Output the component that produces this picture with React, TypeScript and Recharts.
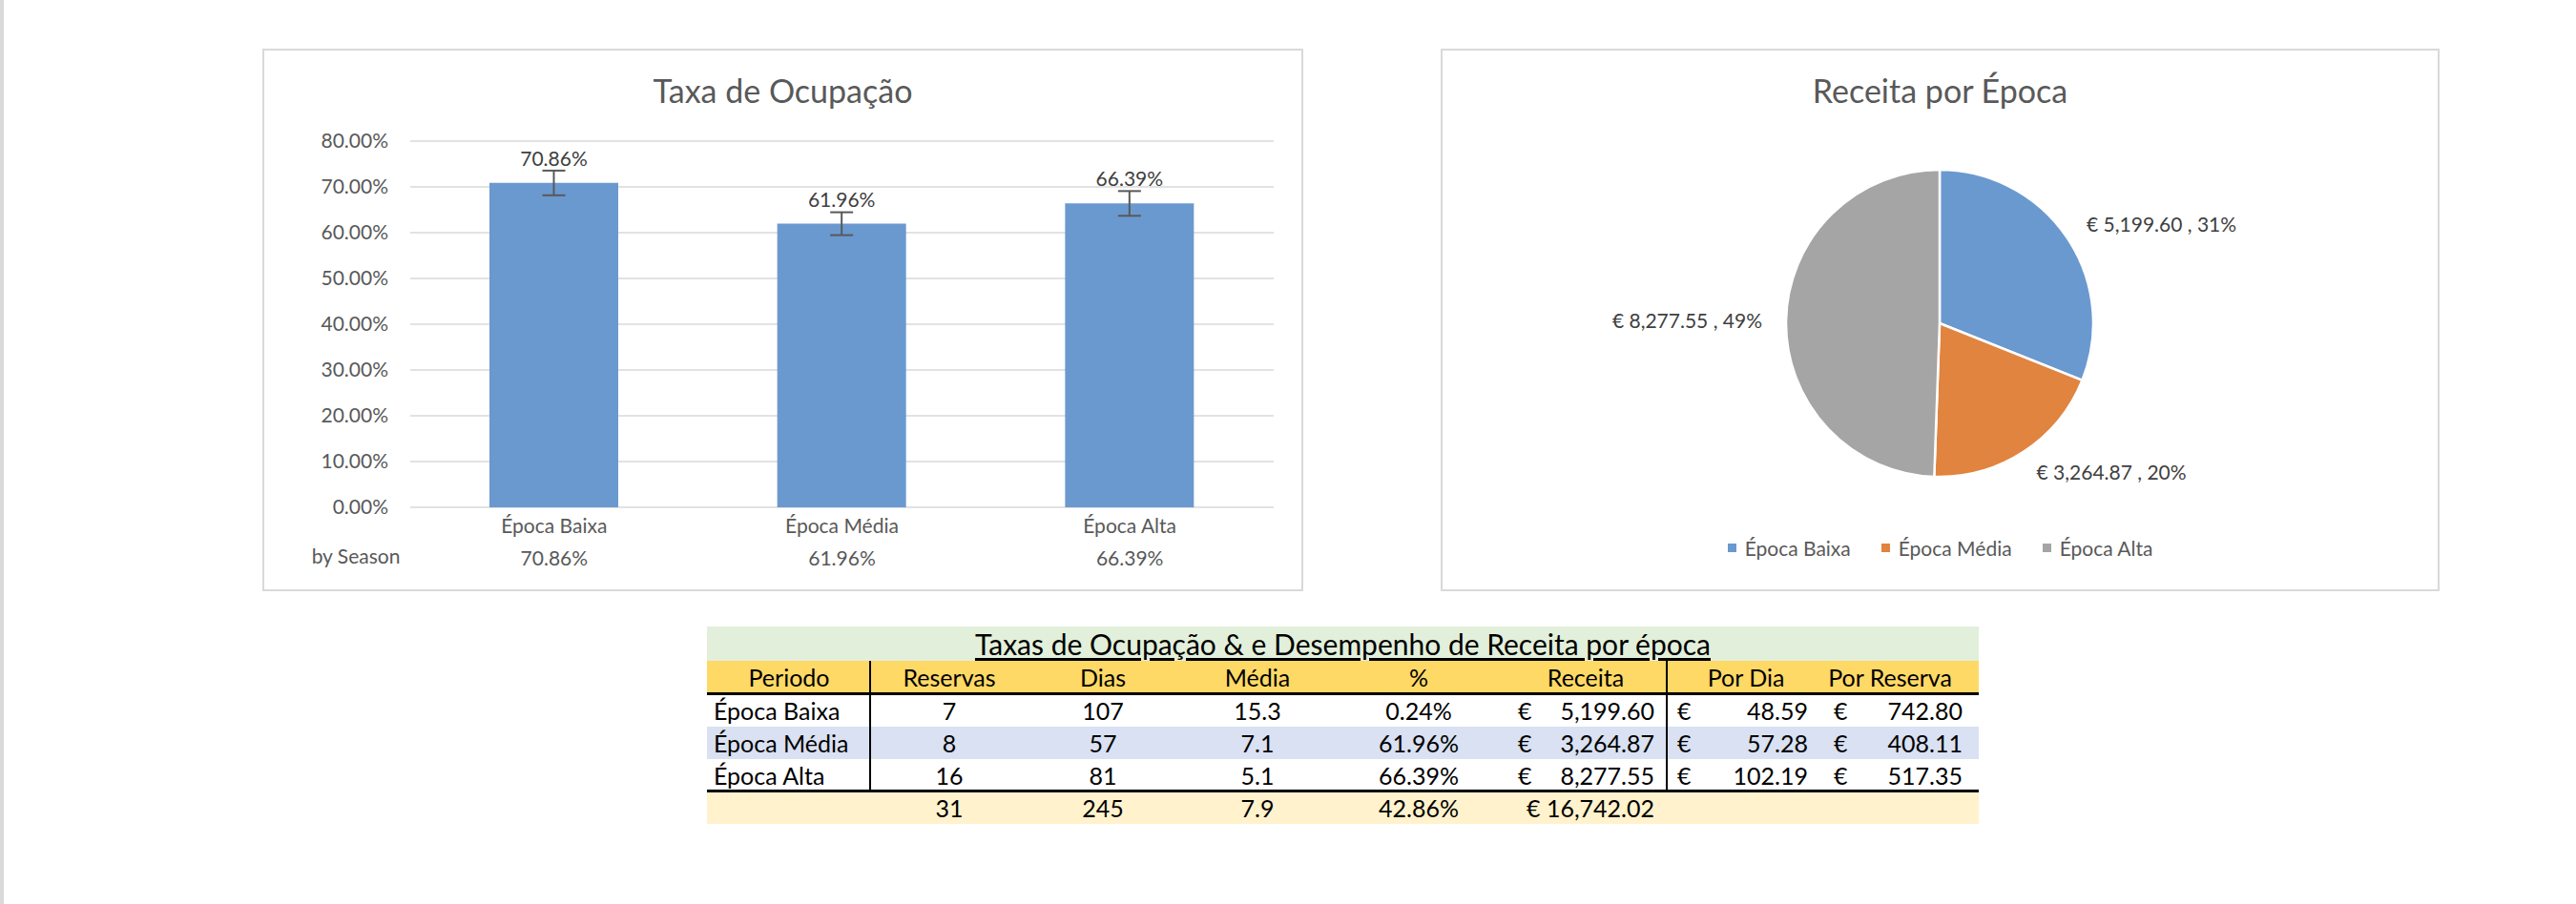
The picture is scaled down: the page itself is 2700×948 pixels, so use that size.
import React from "react";
import {
  BarChart,
  Bar,
  XAxis,
  YAxis,
  CartesianGrid,
  ErrorBar,
  LabelList,
  PieChart,
  Pie,
  Cell,
  Legend,
} from "recharts";

const seasons = ["Época Baixa", "Época Média", "Época Alta"];
const occupancy = [70.86, 61.96, 66.39];
const occupancyError = [2.7, 2.5, 2.7];
const yTicks = [0, 10, 20, 30, 40, 50, 60, 70, 80];

const revenue = [5199.6, 3264.87, 8277.55];
const revenueShare = [31, 20, 49];
const seasonColors = ["#6a99d0", "#e0843f", "#a5a5a5"];

const reservas = [7, 8, 16];
const dias = [107, 57, 81];
const media = ["15.3", "7.1", "5.1"];
const pctCol = ["0.24%", "61.96%", "66.39%"];
const porDia = [48.59, 57.28, 102.19];
const porReserva = [742.8, 408.11, 517.35];
const totalRow = ["31", "245", "7.9", "42.86%", "€ 16,742.02"];
const headers = ["Periodo", "Reservas", "Dias", "Média", "%", "Receita", "Por Dia", "Por Reserva"];

const FONT = "Lato, 'Noto Sans', sans-serif";
const AXIS = "#595959";
const LABEL = "#404040";
const GRID = "#d9d9d9";

const pct = (v: number) => `${v.toFixed(2)}%`;
const money = (v: number) =>
  v.toLocaleString("en-US", { minimumFractionDigits: 2, maximumFractionDigits: 2 });

const barData = seasons.map((name, i) => ({ name, value: occupancy[i], err: occupancyError[i] }));
const pieData = seasons.map((name, i) => ({ name, value: revenue[i], share: revenueShare[i] }));

function SeasonTick({ x, y, payload }: any) {
  const i = seasons.indexOf(payload.value);
  return (
    <g fontFamily={FONT} fontSize={21} fill={AXIS}>
      <text x={x} y={y + 18} textAnchor="middle" dominantBaseline="central">
        {payload.value}
      </text>
      <text x={x} y={y + 52} textAnchor="middle" dominantBaseline="central">
        {pct(occupancy[i])}
      </text>
    </g>
  );
}

function Panel({ left, top, width, height, title, children }: any) {
  return (
    <div style={{ position: "absolute", left, top, width, height }}>
      <div
        style={{
          position: "absolute",
          inset: 0,
          border: `2px solid ${GRID}`,
          boxSizing: "border-box",
        }}
      />
      <div
        style={{
          position: "absolute",
          left: 0,
          width,
          top: 24,
          textAlign: "center",
          fontSize: 34,
          lineHeight: "40px",
          color: AXIS,
        }}
      >
        {title}
      </div>
      {children}
    </div>
  );
}

function OccupancyChart() {
  return (
    <Panel left={275} top={51} width={1091} height={569} title="Taxa de Ocupação">
      <div style={{ position: "absolute", left: 0, top: 0 }}>
        <BarChart
          width={1091}
          height={569}
          data={barData}
          margin={{ top: 97, right: 31, bottom: 0, left: 0 }}
          barCategoryGap="27%"
        >
          <CartesianGrid vertical={false} stroke={GRID} strokeWidth={1.5} />
          <XAxis
            dataKey="name"
            height={88}
            axisLine={false}
            tickLine={false}
            tickSize={0}
            tickMargin={0}
            tick={<SeasonTick />}
          />
          <YAxis
            width={155}
            domain={[0, 80]}
            ticks={yTicks}
            axisLine={false}
            tickLine={false}
            tickSize={0}
            tickMargin={23}
            tickFormatter={pct}
            tick={{ fill: AXIS, fontSize: 21, fontFamily: FONT }}
          />
          <Bar dataKey="value" fill={seasonColors[0]} barSize={135} isAnimationActive={false}>
            <ErrorBar dataKey="err" width={12} stroke={AXIS} strokeWidth={2} />
            <LabelList
              dataKey="value"
              position="top"
              offset={18}
              formatter={(v: any) => pct(Number(v))}
              fill={LABEL}
              fontSize={21}
              fontFamily={FONT}
            />
          </Bar>
        </BarChart>
      </div>
      <div
        style={{
          position: "absolute",
          left: 40,
          width: 116,
          top: 518,
          textAlign: "center",
          fontSize: 21,
          lineHeight: "28px",
          color: AXIS,
        }}
      >
        by Season
      </div>
    </Panel>
  );
}

function renderPieLabel(props: any) {
  const { cx, cy, midAngle, outerRadius, payload } = props;
  const rad = (Math.PI / 180) * midAngle;
  const r = outerRadius + 25;
  const x = cx + r * Math.cos(rad);
  const y = cy - r * Math.sin(rad);
  return (
    <text
      x={x}
      y={y}
      textAnchor={Math.cos(rad) >= 0 ? "start" : "end"}
      dominantBaseline="central"
      fill={LABEL}
      fontSize={21}
      fontFamily={FONT}
    >
      {`€ ${money(payload.value)} , ${payload.share}%`}
    </text>
  );
}

function SeasonLegend() {
  return (
    <div style={{ display: "flex", justifyContent: "center", gap: 32, fontFamily: FONT }}>
      {seasons.map((s, i) => (
        <div key={s} style={{ display: "flex", alignItems: "center", gap: 9 }}>
          <span style={{ width: 9, height: 9, background: seasonColors[i], display: "inline-block" }} />
          <span style={{ fontSize: 21, color: AXIS }}>{s}</span>
        </div>
      ))}
    </div>
  );
}

function RevenueChart() {
  return (
    <Panel left={1510} top={51} width={1047} height={569} title="Receita por Época">
      <div style={{ position: "absolute", left: 0, top: 0 }}>
        <PieChart width={1047} height={569} margin={{ top: 0, right: 0, bottom: 0, left: 0 }}>
          <Pie
            data={pieData}
            dataKey="value"
            nameKey="name"
            cx={523}
            cy={288}
            outerRadius={161}
            startAngle={90}
            endAngle={-270}
            stroke="#ffffff"
            strokeWidth={2.5}
            label={renderPieLabel}
            labelLine={false}
            isAnimationActive={false}
          >
            {pieData.map((d, i) => (
              <Cell key={d.name} fill={seasonColors[i]} />
            ))}
          </Pie>
          <Legend
            content={<SeasonLegend />}
            wrapperStyle={{ position: "absolute", top: 511, left: 0, width: 1047 }}
          />
        </PieChart>
      </div>
    </Panel>
  );
}

// table column anchors, relative to the table's left edge
const TL = 741;
const rowH = [36, 35, 34, 34, 34, 34];

function Cell2({ text, at, align, style }: any) {
  const base: React.CSSProperties = { position: "absolute", top: 0, whiteSpace: "nowrap", ...style };
  if (align === "left") return <span style={{ ...base, left: at }}>{text}</span>;
  if (align === "right") return <span style={{ ...base, right: 1333 - at }}>{text}</span>;
  return (
    <span style={{ ...base, left: at, transform: "translateX(-50%)" }}>{text}</span>
  );
}

function SummaryTable() {
  const tops = rowH.reduce((acc: number[], h, i) => [...acc, i === 0 ? 0 : acc[i - 1] + rowH[i - 1]], []);
  const headerPos = [86, 254, 415, 577, 746, 921, 1089, 1240];
  const rowBg = ["#ffffff", "#d9e1f2", "#ffffff"];
  const rowStyle = (i: number, bg: string): React.CSSProperties => ({
    position: "absolute",
    left: 0,
    top: tops[i],
    width: 1333,
    height: rowH[i],
    lineHeight: `${rowH[i]}px`,
    background: bg,
  });
  return (
    <div
      style={{
        position: "absolute",
        left: TL,
        top: 657,
        width: 1333,
        height: 207,
        fontSize: 25,
        color: "#000",
      }}
    >
      <div style={{ ...rowStyle(0, "#e2efda"), textAlign: "center", fontSize: 30 }}>
        <span style={{ textDecoration: "underline", textUnderlineOffset: 3 }}>
          Taxas de Ocupação &amp; e Desempenho de Receita por época
        </span>
      </div>
      <div style={rowStyle(1, "#ffd966")}>
        {headers.map((h, i) => (
          <Cell2 key={h} text={h} at={headerPos[i]} align="center" />
        ))}
      </div>
      {seasons.map((s, i) => (
        <div key={s} style={rowStyle(i + 2, rowBg[i])}>
          <Cell2 text={s} at={7} align="left" />
          <Cell2 text={reservas[i]} at={254} align="center" />
          <Cell2 text={dias[i]} at={415} align="center" />
          <Cell2 text={media[i]} at={577} align="center" />
          <Cell2 text={pctCol[i]} at={746} align="center" />
          <Cell2 text="€" at={850} align="left" />
          <Cell2 text={money(revenue[i])} at={993} align="right" />
          <Cell2 text="€" at={1017} align="left" />
          <Cell2 text={money(porDia[i])} at={1154} align="right" />
          <Cell2 text="€" at={1181} align="left" />
          <Cell2 text={money(porReserva[i])} at={1316} align="right" />
        </div>
      ))}
      <div style={rowStyle(5, "#fff2cc")}>
        <Cell2 text={totalRow[0]} at={254} align="center" />
        <Cell2 text={totalRow[1]} at={415} align="center" />
        <Cell2 text={totalRow[2]} at={577} align="center" />
        <Cell2 text={totalRow[3]} at={746} align="center" />
        <Cell2 text={totalRow[4]} at={993} align="right" />
      </div>
      {/* borders */}
      <div style={{ position: "absolute", left: 0, width: 1333, top: tops[2] - 2, height: 3, background: "#000" }} />
      <div style={{ position: "absolute", left: 0, width: 1333, top: tops[5] - 2, height: 3, background: "#000" }} />
      <div style={{ position: "absolute", left: 170, width: 2, top: tops[1], height: tops[5] - tops[1], background: "#000" }} />
      <div style={{ position: "absolute", left: 1005, width: 2, top: tops[1], height: tops[5] - tops[1], background: "#000" }} />
    </div>
  );
}

export default function App() {
  return (
    <div
      style={{
        position: "absolute",
        left: 0,
        top: 0,
        width: 2700,
        height: 948,
        background: "#ffffff",
        fontFamily: FONT,
        overflow: "hidden",
      }}
    >
      <div style={{ position: "absolute", left: 0, top: 0, width: 4, height: 948, background: "#d9d9d9" }} />
      <OccupancyChart />
      <RevenueChart />
      <SummaryTable />
    </div>
  );
}
